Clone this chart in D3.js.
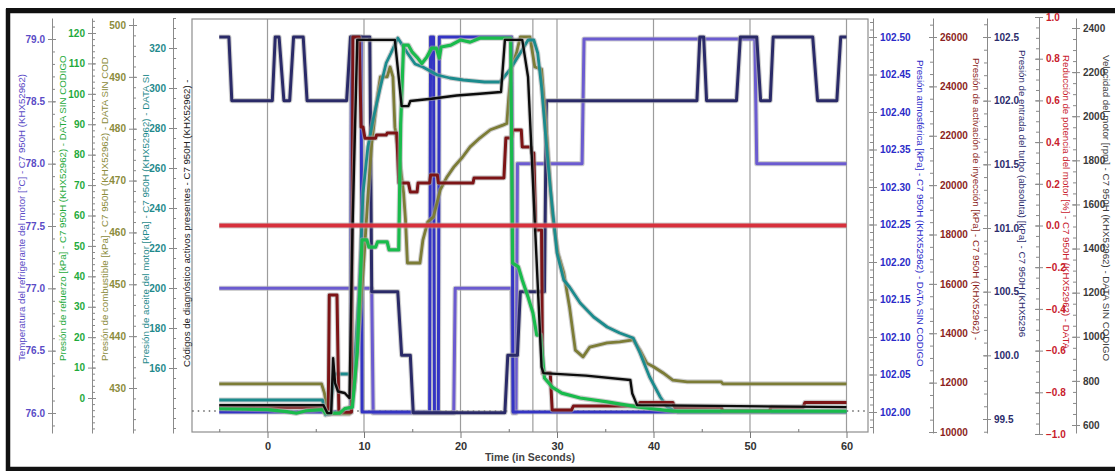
<!DOCTYPE html>
<html><head><meta charset="utf-8">
<script src="https://cdnjs.cloudflare.com/ajax/libs/d3/7.8.5/d3.min.js"></script>
<style>body{margin:0;background:#fff;} svg{display:block;font-family:"Liberation Sans",Arial,sans-serif;}</style>
</head><body><script>
// ---------------- DATA ----------------
const timeTicks = [0,10,20,30,40,50,60];
const timeMinorTicks = [-5,5,15,25,35,45,55];
const cursorTime = [27.5];

const tempTicks = [76.0,76.5,77.0,77.5,78.0,78.5,79.0];
const refuerzoTicks = [0,10,20,30,40,50,60,70,80,90,100,110,120];
const combustibleTicks = [430,440,450,460,470,480,490,500];
const aceiteTicks = [160,180,200,220,240,260,280,300,320];
const atmTicks = [102.00,102.05,102.10,102.15,102.20,102.25,102.30,102.35,102.40,102.45,102.50];
const inyTicks = [10000,12000,14000,16000,18000,20000,22000,24000,26000];
const turboTicks = [99.5,100.0,100.5,101.0,101.5,102.0,102.5];
const reduccionTicks = [-1.0,-0.8,-0.6,-0.4,-0.2,0.0,0.2,0.4,0.6,0.8,1.0];
const velTicks = [600,800,1000,1200,1400,1600,1800,2000,2200,2400];

// [time s, value]
const temperatura = [[-5,77],[10.8,77],[10.95,76],[19.3,76],[19.45,77],[25.3,77],[25.45,76],[25.75,76],[25.9,78],[32.6,78],[32.8,79],[50.5,79],[50.7,78],[60,78]];
const atmosferica = [[-5,102.0],[8.6,102.0],[8.7,102.5],[9.7,102.5],[9.8,102.0],[16.8,102.0],[16.9,102.5],[17.2,102.5],[17.3,102.0],[17.7,102.0],[17.8,102.5],[25.3,102.5],[25.45,102.0],[60,102.0]];
const turbo = [[-5,102.5],[-4.0,102.5],[-3.7,102.0],[0.5,102.0],[0.8,102.5],[1.2,102.5],[1.7,102.0],[2.3,102.0],[2.7,102.5],[3.7,102.5],[4.1,102.0],[8.2,102.0],[8.6,102.5],[10.6,102.5],[10.8,100.5],[13.5,100.5],[13.9,100.0],[14.8,100.0],[15.1,99.55],[24.6,99.55],[24.9,100.0],[25.9,100.0],[26.2,100.5],[28.7,100.5],[28.9,102.0],[44.5,102.0],[44.8,102.5],[45.2,102.5],[45.5,102.0],[48.6,102.0],[49.0,102.5],[50.7,102.5],[51.1,102.0],[52.1,102.0],[52.4,102.5],[56.5,102.5],[57.0,102.0],[59.0,102.0],[59.4,102.5],[60,102.5]];
const reduccion = [[-5,0],[60,0]];
const inyeccion = [[-5,11000],[5.7,11000],[6.0,10800],[6.3,10800],[6.4,15550],[7.2,15550],[7.4,10800],[8.7,10800],[8.85,26000],[9.5,26000],[9.7,22350],[9.9,22350],[10.1,21900],[11.2,21900],[11.3,22030],[12.3,22030],[12.4,22110],[13.4,22110],[13.6,20090],[14.6,20090],[14.8,19720],[15.5,19720],[15.6,20090],[16.8,20090],[16.9,20410],[17.6,20410],[17.7,20090],[21.3,20090],[21.4,20290],[24.5,20290],[24.7,21910],[25.3,21910],[25.4,22230],[26.3,22230],[26.4,21545],[27.3,21545],[27.4,21300],[27.6,21300],[27.8,18180],[28.4,18180],[28.5,12390],[29.3,12390],[29.5,10890],[31.5,10890],[31.7,11050],[38.4,11050],[38.6,11200],[42,11200],[42.2,11000],[47,11000],[47.2,10850],[52,10850],[52.2,11000],[55.5,11000],[55.7,11200],[60,11200]];
const velocidad = [[-5,690],[5.8,690],[6.2,654],[6.6,654],[6.8,903],[7.0,790],[7.3,752],[8.0,745],[8.5,722],[8.8,1477],[9.3,2346],[13.2,2346],[13.9,2046],[14.6,2046],[14.8,2069],[17,2079],[19.6,2094],[22,2102],[24.2,2110],[24.6,2346],[26.4,2346],[27.0,2178],[28.4,863],[28.6,835],[33,824],[37.6,804],[37.8,743],[38.3,690],[60,681]];
const refuerzo = [[-5,-3.5],[0,-3.8],[2,-4.5],[3,-5],[4,-4.2],[5.7,-3.8],[6.0,-5],[7.5,-5],[8.0,-3.5],[8.8,-3.0],[9.3,15],[9.8,52],[10.3,52],[10.5,49.6],[11.2,49.6],[11.4,51.3],[12.4,51.3],[12.6,48.7],[13.6,48.7],[13.8,90],[14.1,116],[14.6,116],[15.0,113.7],[15.5,112],[16.0,110],[16.5,112],[17.0,115],[17.5,115],[17.8,111.8],[18.0,115.4],[19.0,116],[20.0,117.7],[21,117],[22.0,118.3],[25.2,118.3],[25.4,44.4],[26.0,43.1],[26.4,38.8],[27.0,33.2],[27.5,28],[27.9,20.7],[28.3,20.7],[28.7,6.6],[29.5,3.6],[30.5,1.6],[32.4,0],[35.2,-1.3],[38.5,-3.0],[42,-4.3],[60,-4.3]];
const combustible = [[-5,430.8],[5.6,430.8],[5.9,429],[6.3,425],[8.5,425],[9.0,430],[9.3,437],[10.0,455],[10.4,466.8],[10.8,477.2],[11.3,485],[11.7,490],[12.4,490],[12.7,491.9],[13.0,490],[13.2,480.3],[13.6,475.3],[14.1,467.6],[14.3,462.4],[14.5,454.1],[15.8,454.1],[16.1,458.5],[16.6,462],[17.2,463],[17.9,468.2],[18.6,470.7],[19.3,472.6],[20.2,474.5],[21,476.5],[22,478.2],[23.1,479.8],[24.4,480.7],[24.8,481],[25.0,486],[25.3,491.9],[25.8,494.6],[26.2,497.7],[27.2,497.7],[27.7,491.9],[28.4,491.5],[29,477.2],[29.5,463.7],[30.1,456],[30.7,452.2],[31.3,445.6],[31.9,437.3],[32.7,436],[33.4,437.9],[35.2,438.7],[36.5,438.9],[37.9,439.3],[38.6,437.3],[39.3,434.8],[40,434.1],[41,432.9],[42,431.5],[43.5,431.2],[47,431.2],[47.2,430.8],[60,430.8]];
const aceite = [[-5,144],[5.7,144],[6.0,136.5],[6.5,137],[6.9,157],[8.5,157],[8.9,152],[9.5,200],[9.9,247.5],[10.4,270.5],[11.0,285.5],[11.7,300.5],[12.3,312.5],[12.8,317.5],[13.5,325],[14.5,317.5],[15.3,312],[16.1,310.5],[17.6,306.5],[18.9,305],[20.3,304],[22.5,303],[24.1,303],[25.1,309],[26.2,317.5],[27.0,324],[27.6,324],[28.0,317.5],[28.4,300.5],[28.8,277.5],[29.3,250.5],[30.0,217.5],[30.7,204],[31.3,200.5],[32.4,192.5],[33.8,185.5],[35.2,180.5],[36.5,177.5],[37.9,175],[38.6,167.5],[39.6,155.5],[40.7,145.5],[41.4,140.5],[42.5,138],[60,138]];
const codigos = [[-7.8,0],[62.2,0]];

// ---------------- LAYOUT ----------------
const W = 1115, H = 471;
const P = {l:192, r:868, t:19, b:432};
const svg = d3.select('body').append('svg').attr('width', W).attr('height', H);

const x = d3.scaleLinear().domain([0,60]).range([267.5,846.5]);

function mk(d, r){ return d3.scaleLinear().domain(d).range(r); }
const axes = [
 {id:'temp', side:'left', x:52, color:'#5a4bc6', ticks:tempTicks, fmt:'.1f', s:mk([76,79],[413,39]), minor:0.1, tx:21, ty:361,
  title:'Temperatura del refrigerante del motor [°C] - C7 950H (KHX52962)'},
 {id:'ref', side:'left', x:92, color:'#1faa3c', ticks:refuerzoTicks, fmt:'d', s:mk([0,120],[398,33]), minor:2, tx:62, ty:361,
  title:'Presión de refuerzo [kPa] - C7 950H (KHX52962) - DATA SIN CODIGO'},
 {id:'comb', side:'left', x:133, color:'#8c8c3c', ticks:combustibleTicks, fmt:'d', s:mk([430,500],[388,25]), minor:2, tx:104, ty:361,
  title:'Presión de combustible [kPa] - C7 950H (KHX52962) - DATA SIN COD'},
 {id:'ace', side:'left', x:173, color:'#1f8a8c', ticks:aceiteTicks, fmt:'d', s:mk([160,320],[368,48]), minor:5, tx:145, ty:364,
  title:'Presión de aceite del motor [kPa] - C7 950H (KHX52962) - DATA SI'},
 {id:'atm', side:'right', x:873, color:'#2b2bc8', ticks:atmTicks, fmt:'.2f', s:mk([102.0,102.5],[412,37]), minor:0.01, tx:920, ty:60,
  title:'Presión atmosférica [kPa] - C7 950H (KHX52962) - DATA SIN CODIGO'},
 {id:'iny', side:'right', x:933, color:'#8c1f22', ticks:inyTicks, fmt:'d', s:mk([10000,26000],[432,37]), minor:500, tx:976, ty:58,
  title:'Presión de activación de inyección [kPa] - C7 950H (KHX52962) -'},
 {id:'tur', side:'right', x:987, color:'#2c2c6c', ticks:turboTicks, fmt:'.1f', s:mk([99.5,102.5],[419,37]), minor:0.1, tx:1022, ty:50,
  title:'Presión de entrada del turbo (absoluta) [kPa] - C7 950H (KHX5296'},
 {id:'red', side:'right', x:1039, color:'#c8202c', ticks:reduccionTicks, fmt:'.1f', s:mk([-1,1],[434,17]), minor:0.05, tx:1066, ty:55, caps:true,
  title:'Reducción de potencia del motor [%] - C7 950H (KHX52962) - DATA'},
 {id:'vel', side:'right', x:1076, color:'#3a3a3a', ticks:velTicks, fmt:'d', s:mk([600,2400],[425,28]), minor:50, tx:1106, ty:55,
  title:'Velocidad del motor [rpm] - C7 950H (KHX52962) - DATA SIN CODIGO'}
];
const sc = {}; axes.forEach(a => sc[a.id] = a.s);
const yCod = d3.scaleLinear().domain([0,1]).range([411,19]);
const titleSize = 9.7;

// outer frame
svg.append('rect').attr('x',8).attr('y',11).attr('width',W+10).attr('height',458)
  .attr('fill','none').attr('stroke','#111').attr('stroke-width',4.5);
svg.append('rect').attr('x',6).attr('y',8).attr('width',W).attr('height',4.5).attr('fill','#111');

// gridlines
const grid = svg.append('g');
grid.selectAll('line.g').data(timeTicks.concat(cursorTime)).join('line')
  .attr('x1',d=>x(d)).attr('x2',d=>x(d)).attr('y1',P.t).attr('y2',P.b)
  .attr('stroke','#9c9c9c').attr('stroke-width',1.2);

// plot frame
svg.append('rect').attr('x',P.l).attr('y',P.t).attr('width',P.r-P.l).attr('height',P.b-P.t)
  .attr('fill','none').attr('stroke','#8e8e8e').attr('stroke-width',1.2);

// x axis
const xa = svg.append('g').attr('transform',`translate(0,${P.b})`)
  .call(d3.axisBottom(x).tickValues(timeTicks).tickSize(6).tickSizeOuter(0).tickPadding(4));
xa.select('.domain').remove();
xa.selectAll('line').attr('stroke','#777');
xa.selectAll('text').attr('fill','#333').attr('font-size',11).attr('font-weight','bold');
const xm = svg.append('g').attr('transform',`translate(0,${P.b})`)
  .call(d3.axisBottom(x).tickValues(timeMinorTicks).tickSize(-3).tickFormat(''));
xm.select('.domain').remove();
xm.selectAll('line').attr('stroke','#777');
svg.append('text').attr('x',(P.l+P.r)/2).attr('y',461).attr('text-anchor','middle')
  .attr('font-size',10.5).attr('fill','#444').attr('font-weight','bold').text('Time (in Seconds)');

// y axes
axes.forEach(a => {
  const s0 = a.s;
  let dom, rng;
  if (a.caps) { dom = s0.domain(); rng = s0.range(); }
  else { dom = [s0.invert(433), s0.invert(18)]; rng = [433,18]; }
  const s = d3.scaleLinear().domain(dom).range(rng);
  const left = a.side === 'left';
  const g = svg.append('g').attr('transform',`translate(${a.x},0)`);
  const ax = (left ? d3.axisLeft(s) : d3.axisRight(s)).tickValues(a.ticks)
    .tickFormat(d3.format(a.fmt)).tickSize(4).tickSizeOuter(a.caps?4:0).tickPadding(3);
  g.call(ax);
  g.selectAll('.tick line').attr('x1', left ? 4 : -4);
  g.selectAll('line, path').attr('stroke','#8a8a8a');
  g.selectAll('text').attr('fill',a.color).attr('font-size',10).attr('font-weight','bold');
  const lo = Math.min(...dom), hi = Math.max(...dom);
  const minorVals = d3.range(Math.ceil(lo/a.minor - 1e-6)*a.minor, hi + 1e-9, a.minor);
  const gm = svg.append('g').attr('transform',`translate(${a.x},0)`)
    .call((left ? d3.axisLeft(s) : d3.axisRight(s)).tickValues(minorVals).tickFormat('').tickSize(-3).tickSizeOuter(0));
  gm.select('.domain').remove();
  gm.selectAll('line').attr('stroke','#8a8a8a');
  svg.append('text')
    .attr('transform',`translate(${a.tx},${a.ty}) rotate(${left?-90:90})`)
    .attr('text-anchor','start').attr('dominant-baseline','central')
    .attr('font-size',titleSize).attr('fill',a.color).text(a.title);
});
// códigos title (no axis)
svg.append('text').attr('transform','translate(186,367) rotate(-90)')
  .attr('text-anchor','start').attr('dominant-baseline','central')
  .attr('font-size',titleSize).attr('fill','#222')
  .text('Códigos de diagnóstico activos presentes - C7 950H (KHX52962) -');

// series
svg.append('clipPath').attr('id','clip').append('rect')
  .attr('x',P.l-8).attr('y',P.t).attr('width',P.r-P.l+16).attr('height',P.b-P.t);
const plot = svg.append('g').attr('clip-path','url(#clip)');

plot.append('path').datum(codigos)
  .attr('d', d3.line().x(d=>x(d[0])).y(d=>yCod(d[1])))
  .attr('fill','none').attr('stroke','#666').attr('stroke-width',1.5).attr('stroke-dasharray','1.5,4');

const series = [
  {data:temperatura, s:'temp', color:'#6b5bd0', w:3},
  {data:atmosferica, s:'atm', color:'#3434c4', w:3},
  {data:turbo, s:'tur', color:'#2a2a68', w:3},
  {data:combustible, s:'comb', color:'#7c7c36', w:2.8},
  {data:aceite, s:'ace', color:'#1b8b8d', w:2.8},
  {data:inyeccion, s:'iny', color:'#7c1416', w:3},
  {data:refuerzo, s:'ref', color:'#19bb4c', w:3.2},
  {data:velocidad, s:'vel', color:'#0c0c0c', w:2.4},
  {data:reduccion, s:'red', color:'#d7303c', w:4}
];
series.forEach(se => {
  const ys = sc[se.s];
  const line = d3.line().x(d=>x(d[0])).y(d=>ys(d[1]));
  plot.append('path').datum(se.data).attr('d',line).attr('fill','none')
    .attr('stroke','#a8a8a8').attr('stroke-opacity',0.55).attr('stroke-width',se.w+2.2)
    .attr('stroke-linejoin','round');
  plot.append('path').datum(se.data).attr('d',line).attr('fill','none')
    .attr('stroke',se.color).attr('stroke-width',se.w).attr('stroke-linejoin','round');
});
</script></body></html>
